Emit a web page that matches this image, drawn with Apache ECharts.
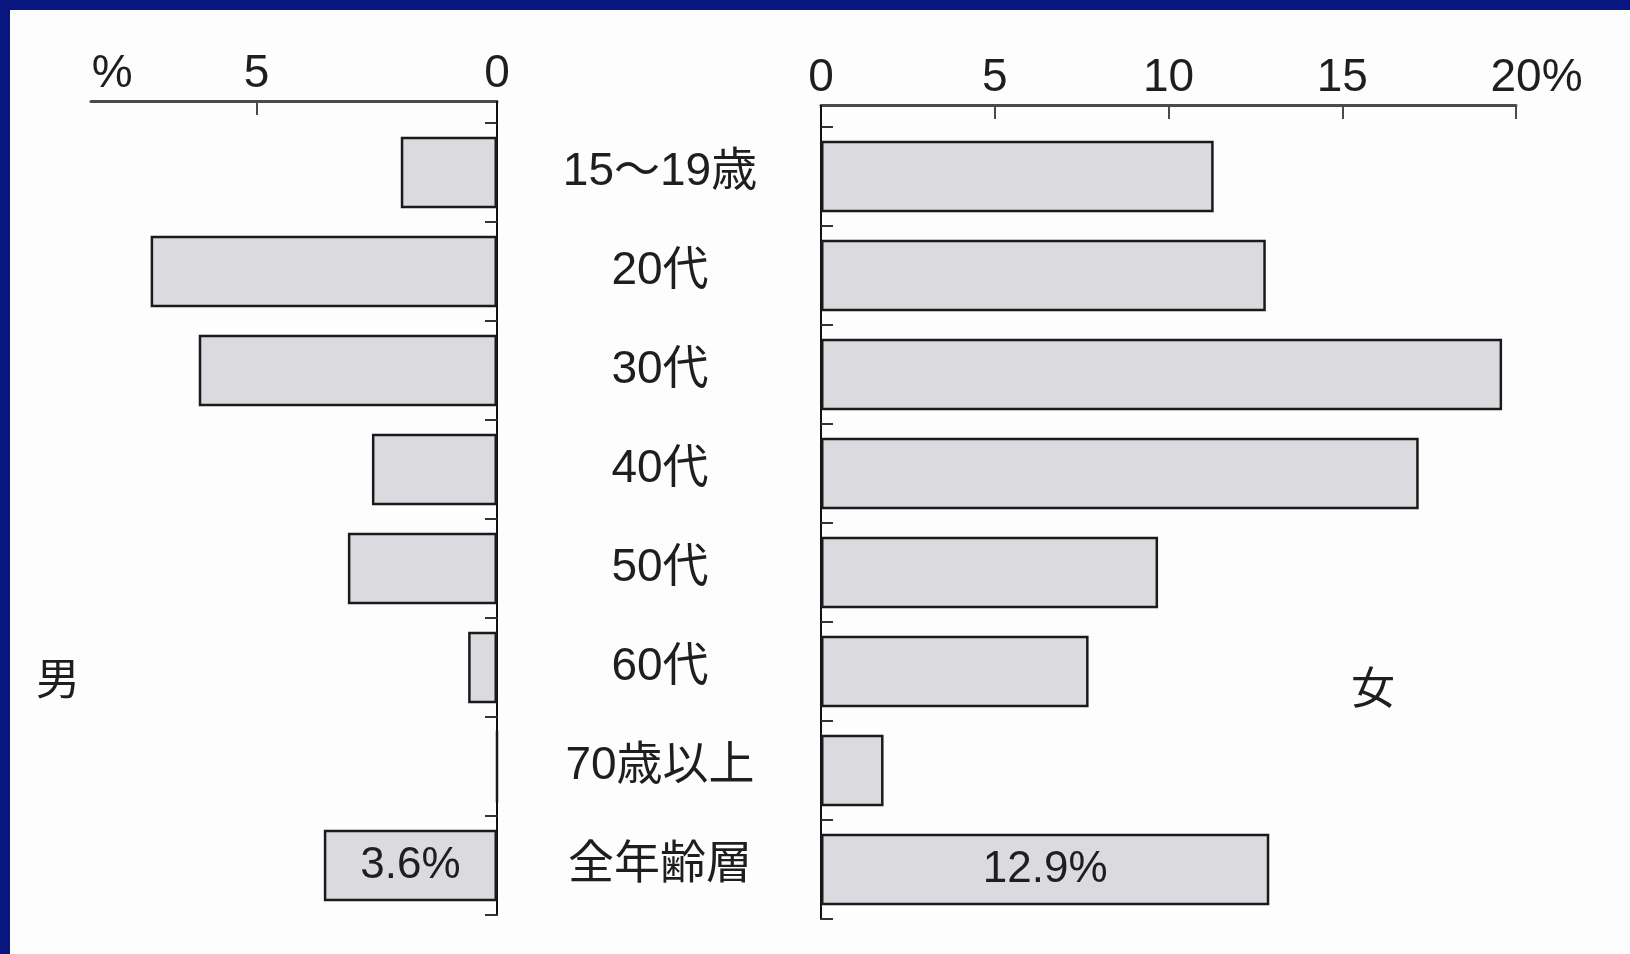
<!DOCTYPE html>
<html><head><meta charset="utf-8">
<script src="https://cdn.jsdelivr.net/npm/echarts@6/dist/echarts.min.js"></script>
<style>html,body{margin:0;padding:0;background:#fdfdfd}#c{width:1630px;height:954px}</style>
</head><body><div id="c"></div>
<script>
const categories = ['15～19歳', '20代', '30代', '40代', '50代', '60代', '70歳以上', '全年齢層'];
const maleValues = [2.0, 7.2, 6.2, 2.6, 3.1, 0.6, 0, 3.6];
const femaleValues = [11.3, 12.8, 19.6, 17.2, 9.7, 7.7, 1.8, 12.9];
const maleTickValues = [0, 5];
const maleLabelValues = [0, 5, 8];
const femaleTickValues = [0, 5, 10, 15, 20];
const totalIndex = 7;

const FONT = '"Liberation Sans", Arial, "Noto Sans CJK JP", sans-serif';
const TXT = '#1e1e1e';
const L = { left: 91, top: 123, width: 406, height: 792, offset: 22 };
const R = { left: 821, top: 127, width: 695, height: 792, offset: 22 };

const barStyle = { color: '#dadadf', borderColor: '#1a1a1a', borderWidth: 2.5 };
const totalLabel = { show: true, position: 'inside', formatter: '{c}%', fontSize: 44, fontFamily: FONT, color: TXT };

function toData(values) {
  return values.map((v, i) => i === totalIndex ? { value: v, label: totalLabel } : v);
}

const chart = echarts.init(document.getElementById('c'));
const option = {
  backgroundColor: '#fdfdfd',
  animation: false,
  grid: [
    { left: L.left, top: L.top, width: L.width, height: L.height },
    { left: R.left, top: R.top, width: R.width, height: R.height }
  ],
  xAxis: [
    {
      gridIndex: 0, type: 'value', inverse: true, min: 0, max: 8.44, position: 'top', offset: L.offset,
      splitLine: { show: false },
      axisLine: { show: true, onZero: false, lineStyle: { color: '#4a4a4a', width: 3 } },
      axisTick: { show: true, inside: true, length: 14, customValues: maleTickValues, lineStyle: { color: '#4a4a4a', width: 2 } },
      axisLabel: { customValues: maleLabelValues, margin: 4, fontSize: 46, fontFamily: FONT, color: TXT,
        formatter: v => v === 8 ? '%' : String(v) }
    },
    {
      gridIndex: 1, type: 'value', min: 0, max: 20, interval: 5, position: 'top', offset: R.offset,
      splitLine: { show: false },
      axisLine: { show: true, onZero: false, lineStyle: { color: '#4a4a4a', width: 3 } },
      axisTick: { show: true, inside: true, length: 14, customValues: femaleTickValues, lineStyle: { color: '#4a4a4a', width: 2 } },
      axisLabel: { margin: 4, fontSize: 46, fontFamily: FONT, color: TXT,
        formatter: v => v === 20 ? '{p|20}%' : String(v),
        rich: { p: { padding: [0, 0, 0, 41], fontSize: 46, fontFamily: FONT, color: TXT } } }
    }
  ],
  yAxis: [
    {
      gridIndex: 0, type: 'category', data: categories, inverse: true, position: 'right',
      axisLine: { show: true, onZero: false, lineStyle: { color: '#111', width: 2 } },
      axisTick: { show: true, inside: true, length: 12, lineStyle: { color: '#333', width: 2 } },
      axisLabel: { margin: 163, align: 'center', fontSize: 46, fontFamily: FONT, color: TXT }
    },
    {
      gridIndex: 1, type: 'category', data: categories, inverse: true, position: 'left',
      axisLine: { show: true, onZero: false, lineStyle: { color: '#111', width: 2 } },
      axisTick: { show: true, inside: true, length: 12, lineStyle: { color: '#333', width: 2 } },
      axisLabel: { show: false }
    }
  ],
  series: [
    { name: '男', type: 'bar', xAxisIndex: 0, yAxisIndex: 0, barWidth: '72%', itemStyle: barStyle, data: toData(maleValues) },
    { name: '女', type: 'bar', xAxisIndex: 1, yAxisIndex: 1, barWidth: '72%', itemStyle: barStyle, data: toData(femaleValues) }
  ]
};
chart.setOption(option);

const x0L = chart.convertToPixel({ xAxisIndex: 0 }, 0);
const x0R = chart.convertToPixel({ xAxisIndex: 1 }, 0);
chart.setOption({
  graphic: [
    { type: 'line', shape: { x1: x0L, y1: L.top - L.offset, x2: x0L, y2: L.top }, style: { stroke: '#111', lineWidth: 2 }, z: 10 },
    { type: 'line', shape: { x1: x0R, y1: R.top - R.offset, x2: x0R, y2: R.top }, style: { stroke: '#111', lineWidth: 2 }, z: 10 },
    { type: 'text', x: 58, y: 683, style: { text: '男', fontSize: 44, fontFamily: FONT, fill: TXT, align: 'center', verticalAlign: 'middle' } },
    { type: 'text', x: 1373, y: 692, style: { text: '女', fontSize: 44, fontFamily: FONT, fill: TXT, align: 'center', verticalAlign: 'middle' } },
    { type: 'rect', shape: { x: 0, y: 0, width: 1630, height: 10 }, style: { fill: '#0a1680' }, z: 20 },
    { type: 'rect', shape: { x: 0, y: 0, width: 10, height: 954 }, style: { fill: '#0a1680' }, z: 20 }
  ]
});
</script>
</body></html>
